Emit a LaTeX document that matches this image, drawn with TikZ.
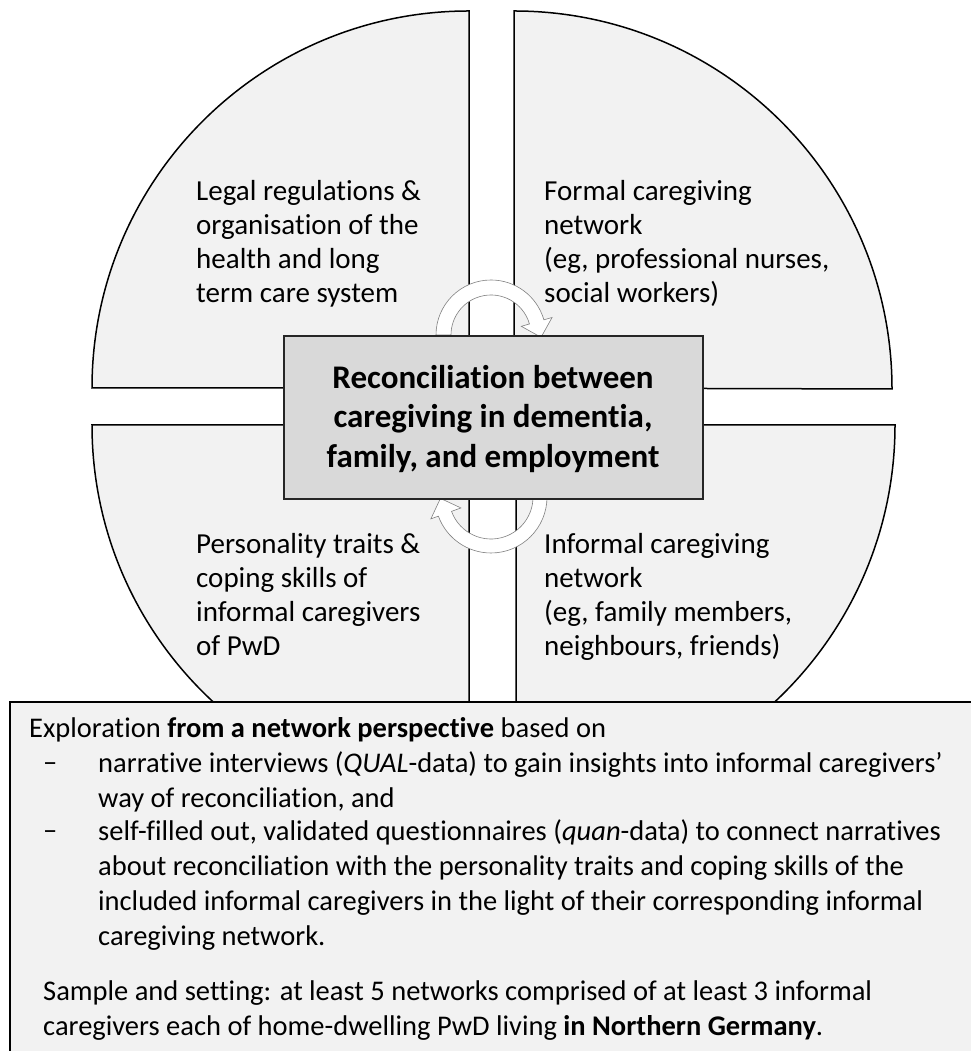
\documentclass[tikz,border=0pt]{standalone}
\usepackage{fontspec}
\setmainfont[Ligatures=NoCommon]{Carlito}
\usetikzlibrary{calc}
\definecolor{quadfill}{HTML}{F2F2F2}
\definecolor{boxfill}{HTML}{D9D9D9}
\definecolor{arrowline}{HTML}{808080}
\newcommand{\myfirststrut}[1]{\rule{0pt}{#1}}
\tikzset{
  quad/.style={draw=black, fill=quadfill, line width=1.5pt, line join=miter},
  centerbox/.style={draw=black!85, fill=boxfill, line width=1.5pt},
  loop/.style={draw=arrowline, fill=white, line width=0.6pt, line join=miter},
  quadtext/.style={anchor=north west, inner sep=0pt, align=left, font=\fontsize{29}{34}\selectfont},
  bodytext/.style={anchor=north west, inner sep=0pt, align=left, font=\fontsize{28.5}{35}\selectfont},
  dashmark/.style={anchor=base west, inner sep=0pt, font=\fontsize{28.5}{35}\selectfont},
}
\begin{document}
\begin{tikzpicture}[x=1pt, y=1pt]
\useasboundingbox (0,0) rectangle (970,1051);
% quadrants (image y -> 1051 - y)
\coordinate (ctl) at (469,663);
\coordinate (ctr) at (514,663);
\coordinate (cbl) at (469,626);
\coordinate (cbr) at (516,626);
\path[quad] (ctl) -- ++(-377,0) arc[start angle=180, end angle=90, radius=377pt] -- cycle;
\path[quad] (ctr) -- ++(0,377) arc[start angle=90, end angle=0, radius=378pt] -- cycle;
\path[quad] (cbl) -- ++(0,-377) arc[start angle=270, end angle=180, radius=377pt] -- cycle;
\path[quad] (cbr) -- ++(379,0) arc[start angle=0, end angle=-90, radius=379pt] -- cycle;
% quadrant texts
\node[quadtext] (tl) at (196,876) {\myfirststrut{25pt}Legal regulations \&\\organisation of the\\health and long\\term care system};
\node[quadtext] (tr) at (544,876) {\myfirststrut{25pt}Formal caregiving\\network\\(eg, professional nurses,\\social workers)};
\node[quadtext] (bl) at (196,523) {\myfirststrut{25pt}Personality traits \&\\coping skills of\\informal caregivers\\of PwD};
\node[quadtext] (br) at (544,523) {\myfirststrut{25pt}Informal caregiving\\network\\(eg, family members,\\neighbours, friends)};
% loop arrows
\coordinate (ca) at (491,716);
\path[loop] ($(ca)+(180:55pt)$) arc[start angle=180, end angle=16, radius=55pt]
  -- ($(ca)+(16:63.5pt)$) -- ($(ca)+(16:47.5pt)+(-74:16pt)$) -- ($(ca)+(16:31.5pt)$)
  -- ($(ca)+(16:40pt)$) arc[start angle=16, end angle=180, radius=40pt] -- cycle;
\coordinate (cb) at (491,554);
\path[loop] ($(cb)+(0:56pt)$) arc[start angle=0, end angle=-160, radius=56pt]
  -- ($(cb)+(-160:64pt)$) -- ($(cb)+(-160:48pt)+(110:16pt)$) -- ($(cb)+(-160:32pt)$)
  -- ($(cb)+(-160:42pt)$) arc[start angle=-160, end angle=0, radius=42pt] -- cycle;
% centre box
\node[centerbox, minimum width=419pt, minimum height=163pt, inner sep=0pt] (center) at (493.5,633.5) {};
\node[anchor=north, inner sep=0pt, align=center, font=\fontsize{33}{39.5}\selectfont\bfseries] (ctext) at (493,691)
  {\myfirststrut{28pt}Reconciliation between\\caregiving in dementia,\\family, and employment};
% bottom box
\path[draw=black, fill=quadfill, line width=1.3pt] (10,349) rectangle (976,-6);
\node[bodytext] (exp) at (29,339) {\myfirststrut{25pt}Exploration \textbf{from a network perspective} based on};
\node[dashmark] (d1) at (43,279) {–};
\node[bodytext] (i1) at (98,304) {\myfirststrut{25pt}narrative interviews (\textit{QUAL}-data) to gain insights into informal caregivers’\\way of reconciliation, and};
\node[dashmark] (d2) at (43,211) {–};
\node[bodytext] (i2) at (98,236) {\myfirststrut{25pt}self-filled out, validated questionnaires (\textit{quan}-data) to connect narratives\\about reconciliation with the personality traits and coping skills of the\\included informal caregivers in the light of their corresponding informal\\caregiving network.};
\node[bodytext] (smp) at (43,76) {\myfirststrut{25pt}Sample and setting: at least 5 networks comprised of at least 3 informal\\caregivers each of home-dwelling PwD living \textbf{in Northern Germany}.};
\end{tikzpicture}
\end{document}
